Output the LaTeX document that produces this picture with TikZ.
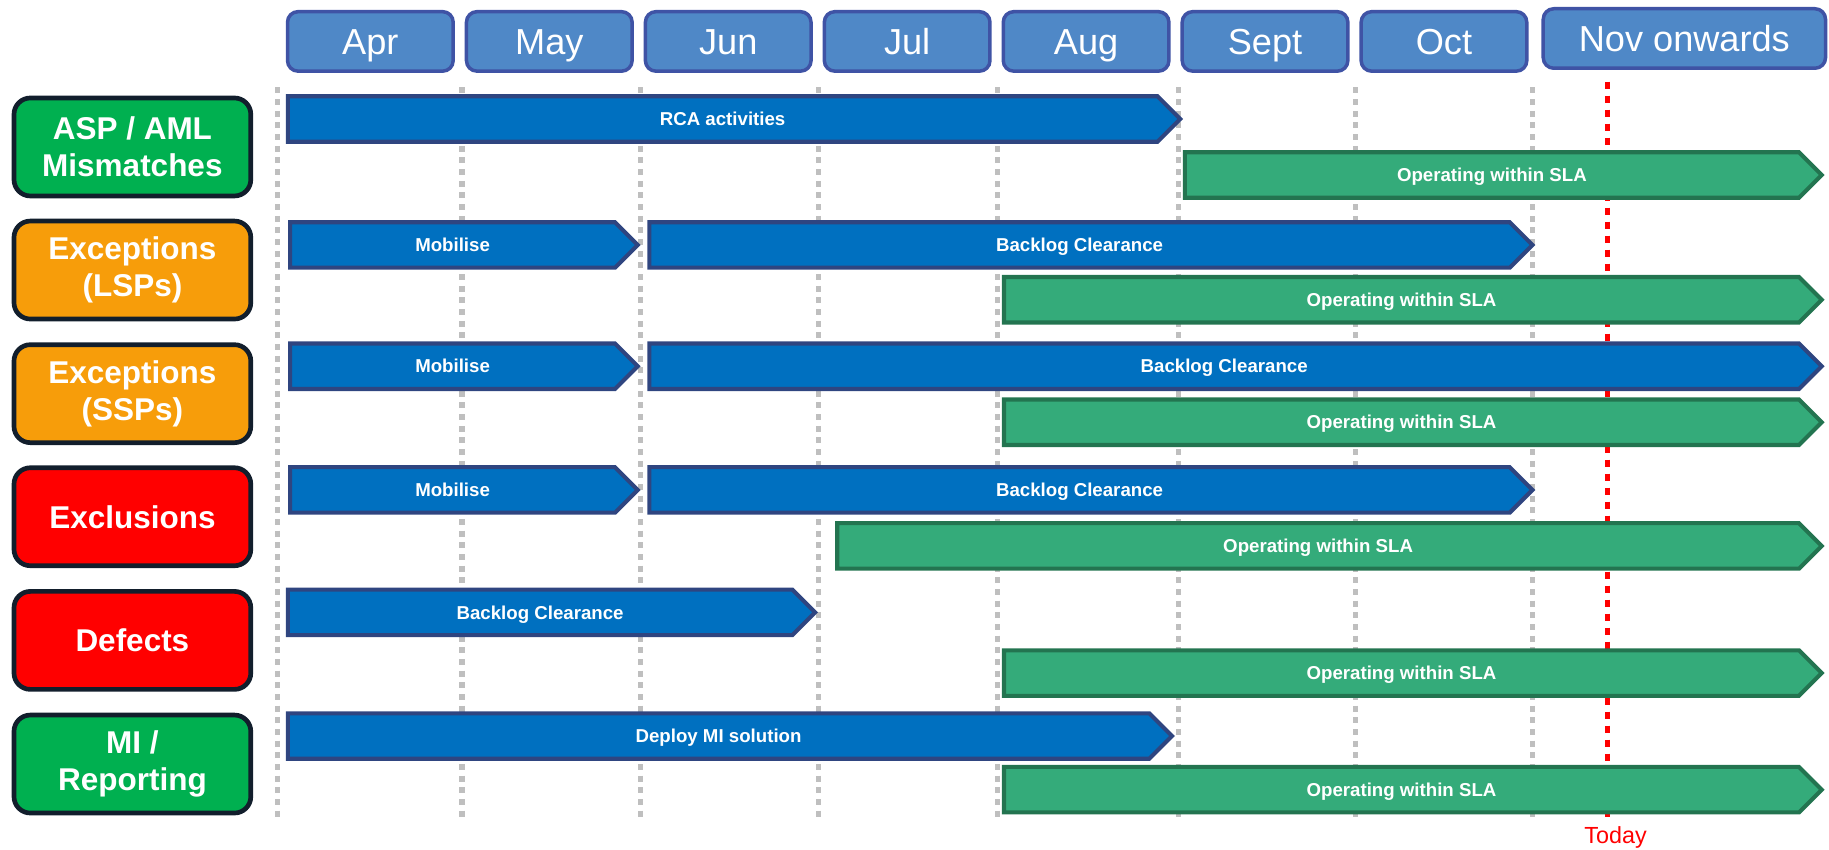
\documentclass[tikz,border=0pt]{standalone}
\usepackage{fontspec}
\setmainfont{Liberation Sans}
\usetikzlibrary{shapes.symbols}
\definecolor{hdrfill}{RGB}{79,136,199}
\definecolor{hdrline}{RGB}{63,83,165}
\definecolor{barblue}{RGB}{0,112,192}
\definecolor{barblueline}{RGB}{47,69,128}
\definecolor{bargreen}{RGB}{52,171,122}
\definecolor{bargreenline}{RGB}{35,116,80}
\definecolor{lblgreen}{RGB}{0,176,80}
\definecolor{lblorange}{RGB}{247,157,10}
\definecolor{lblred}{RGB}{255,0,0}
\definecolor{lblline}{RGB}{18,30,44}
\definecolor{gridgray}{RGB}{191,191,191}
\tikzset{
  monthbox/.style={draw=hdrline, fill=hdrfill, line width=3pt, rounded corners=9pt,
    minimum width=142pt, minimum height=51pt, inner sep=0pt, text=white,
    text height=22pt, text depth=0pt, font=\fontsize{31}{36}\selectfont},
  rowbox/.style={draw=lblline, line width=4pt, rounded corners=14pt,
    minimum width=203pt, minimum height=84pt, inner sep=0pt, text=white, align=center,
    font=\bfseries\fontsize{27}{32}\selectfont},
  taskbar/.style={signal, signal to=east, signal pointer angle=90, anchor=west,
    minimum height=39pt, inner sep=0pt, line width=3.5pt, text=white,
    text height=11.5pt, text depth=0pt, font=\bfseries\fontsize{16}{19}\selectfont},
  bluebar/.style={taskbar, fill=barblue, draw=barblueline},
  greenbar/.style={taskbar, fill=bargreen, draw=bargreenline},
  gridline/.style={draw=gridgray, line width=4.5pt, dash pattern=on 5pt off 5pt},
  todayline/.style={draw=red, line width=4.5pt, dash pattern=on 6pt off 6pt},
}
\begin{document}
\begin{tikzpicture}[x=1pt,y=-1pt]
\useasboundingbox (0,0) rectangle (1568,728);
% month headers
\foreach \m [count=\i from 0] in {Apr,May,Jun,Jul,Aug,Sept,Oct}
  \node[monthbox] (m\i) at (317.5+153.4*\i,35.5) {\m};
\node[monthbox, minimum width=242pt] (m7) at (1444,33) {Nov onwards};
% grid
\foreach \x in {238,396,549,702,855,1010,1162,1314}
  \draw[gridline] (\x,75) -- (\x,702);
\draw[todayline] (1378,70) -- (1378,702);
\node[text=red, font=\fontsize{20}{24}\selectfont] (today) at (1385,718) {Today};
% row labels
\node[rowbox, fill=lblgreen] (asp) at (113.5,126) {ASP / AML\\Mismatches};
\node[rowbox, fill=lblorange] (lsp) at (113.5,231.5) {Exceptions\\(LSPs)};
\node[rowbox, fill=lblorange] (ssp) at (113.5,337.5) {Exceptions\\(SSPs)};
\node[rowbox, fill=lblred] (excl) at (113.5,443) {Exclusions};
\node[rowbox, fill=lblred] (defects) at (113.5,549) {Defects};
\node[rowbox, fill=lblgreen] (mi) at (113.5,655) {MI /\\Reporting};
% bars
\node[bluebar, minimum width=765pt] (rca) at (245,102) {RCA activities};
\node[greenbar, minimum width=546pt] (aspsla) at (1014,150) {Operating within SLA};
\node[bluebar, minimum width=298pt] (lspmob) at (247,210) {Mobilise};
\node[bluebar, minimum width=757pt] (lspbl) at (555,210) {Backlog Clearance};
\node[greenbar, minimum width=701pt] (lspsla) at (859,257) {Operating within SLA};
\node[bluebar, minimum width=298pt] (sspmob) at (247,314) {Mobilise};
\node[bluebar, minimum width=1005pt] (sspbl) at (555,314) {Backlog Clearance};
\node[greenbar, minimum width=701pt] (sspsla) at (859,362) {Operating within SLA};
\node[bluebar, minimum width=298pt] (exclmob) at (247,420) {Mobilise};
\node[bluebar, minimum width=757pt] (exclbl) at (555,420) {Backlog Clearance};
\node[greenbar, minimum width=844pt] (exclsla) at (716,468) {Operating within SLA};
\node[bluebar, minimum width=452pt] (defbl) at (245,525) {Backlog Clearance};
\node[greenbar, minimum width=701pt] (defsla) at (859,577) {Operating within SLA};
\node[bluebar, minimum width=758pt] (midep) at (245,631) {Deploy MI solution};
\node[greenbar, minimum width=701pt] (misla) at (859,677) {Operating within SLA};
\end{tikzpicture}
\end{document}
